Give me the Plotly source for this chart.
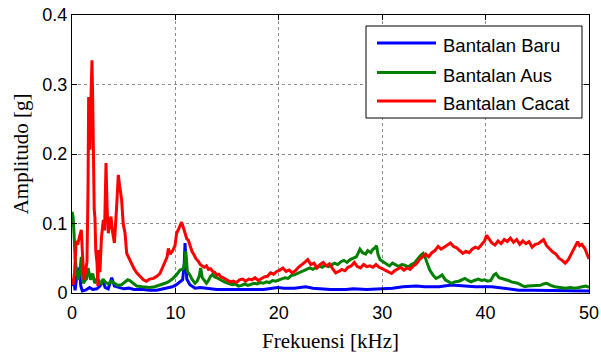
import plotly.graph_objects as go

# ---------------- data ----------------
freq_cacat = [
    0.0, 0.1, 0.25, 0.4, 0.58, 0.75, 0.9, 1.0, 1.16, 1.3,
    1.45, 1.55, 1.61, 1.68, 1.74, 1.85, 1.93, 2.0, 2.06, 2.15,
    2.22, 2.3, 2.42, 2.5, 2.58, 2.7, 2.85, 3.03, 3.15, 3.29,
    3.4, 3.51, 3.65, 3.77, 3.9, 4.1, 4.3, 4.48, 4.6, 4.8,
    4.95, 5.13, 5.29, 5.5, 5.77, 6.0, 6.26, 6.5, 6.9, 7.2,
    7.5, 7.87, 8.2, 8.5, 8.83, 9.0, 9.2, 9.32, 9.5, 9.7,
    9.96, 10.12, 10.28, 10.45, 10.6, 10.75, 10.93, 11.1, 11.25,
    11.4, 11.6, 11.8, 12.0, 12.2, 12.4, 12.6, 12.8, 13.0, 13.2,
    13.4, 13.6, 13.8, 14.0, 14.2, 14.4, 14.6, 14.8, 15.0, 15.3,
    15.6, 15.9, 16.2, 16.5, 16.8, 17.1, 17.4, 17.7, 18.0, 18.3,
    18.6, 18.9, 19.2, 19.5, 19.8, 20.1, 20.4, 20.7, 21.0, 21.3,
    21.6, 21.9, 22.2, 22.5, 22.8, 23.1, 23.4, 23.7, 24.0, 24.3,
    24.6, 24.9, 25.2, 25.5, 25.8, 26.1, 26.4, 26.7, 27.0, 27.3,
    27.6, 27.9, 28.2, 28.5, 28.8, 29.1, 29.4, 29.7, 30.0, 30.3,
    30.6, 30.9, 31.2, 31.5, 31.8, 32.1, 32.4, 32.7, 33.0, 33.3,
    33.6, 33.9, 34.2, 34.5, 34.8, 35.1, 35.4, 35.7, 36.0, 36.3,
    36.6, 36.9, 37.2, 37.5, 37.8, 38.1, 38.4, 38.7, 39.0, 39.3,
    39.6, 39.9, 40.1, 40.3, 40.6, 40.9, 41.2, 41.5, 41.8, 42.1,
    42.4, 42.7, 43.0, 43.3, 43.6, 43.9, 44.2, 44.5, 44.8, 45.1,
    45.4, 45.6, 45.9, 46.2, 46.5, 46.8, 47.1, 47.4, 47.7, 48.0,
    48.3, 48.6, 48.9, 49.1, 49.3, 49.6, 49.8, 50.0]
amp_cacat = [
    0.02, 0.012, 0.03, 0.074, 0.072, 0.082, 0.091, 0.06, 0.019, 0.03,
    0.045, 0.15, 0.282, 0.27, 0.206, 0.29, 0.335, 0.28, 0.206, 0.12,
    0.108, 0.06, 0.043, 0.01, 0.062, 0.03, 0.08, 0.105, 0.09, 0.187,
    0.12, 0.086, 0.1, 0.11, 0.09, 0.072, 0.12, 0.17, 0.155, 0.134,
    0.1, 0.086, 0.057, 0.05, 0.043, 0.035, 0.029, 0.025, 0.019, 0.017,
    0.02, 0.021, 0.024, 0.028, 0.038, 0.045, 0.052, 0.064, 0.056, 0.06,
    0.068, 0.086, 0.091, 0.097, 0.102, 0.095, 0.086, 0.078, 0.076,
    0.068, 0.06, 0.055, 0.049, 0.046, 0.041, 0.039, 0.037, 0.039, 0.034,
    0.035, 0.031, 0.03, 0.026, 0.027, 0.023, 0.022, 0.02, 0.019, 0.016,
    0.017, 0.015, 0.019, 0.02, 0.017, 0.02, 0.019, 0.022, 0.018, 0.021,
    0.023, 0.024, 0.029, 0.027, 0.031, 0.033, 0.036, 0.031, 0.033, 0.029,
    0.032, 0.037, 0.04, 0.044, 0.048, 0.041, 0.043, 0.036, 0.041, 0.044,
    0.039, 0.042, 0.035, 0.029, 0.031, 0.034, 0.032, 0.037, 0.039, 0.044,
    0.038, 0.036, 0.041, 0.038, 0.039, 0.037, 0.041, 0.037, 0.035, 0.033,
    0.031, 0.028, 0.032, 0.035, 0.037, 0.033, 0.036, 0.034, 0.039, 0.042,
    0.048, 0.052, 0.056, 0.052, 0.058, 0.061, 0.067, 0.063, 0.066, 0.069,
    0.072, 0.067, 0.065, 0.061, 0.057, 0.06, 0.058, 0.063, 0.066, 0.064,
    0.069, 0.075, 0.083, 0.078, 0.072, 0.069, 0.075, 0.071, 0.077, 0.074,
    0.079, 0.073, 0.077, 0.07, 0.075, 0.071, 0.074, 0.066, 0.07, 0.071,
    0.074, 0.077, 0.068, 0.063, 0.059, 0.056, 0.05, 0.047, 0.043, 0.048,
    0.056, 0.066, 0.074, 0.068, 0.07, 0.064, 0.056, 0.049]

freq_aus = [
    0.0, 0.1, 0.2, 0.3, 0.42, 0.6, 0.75, 0.9, 1.0, 1.1,
    1.25, 1.4, 1.55, 1.7, 1.8, 2.0, 2.2, 2.4, 2.6, 2.8,
    3.0, 3.2, 3.5, 3.8, 4.1, 4.4, 4.8, 5.1, 5.4, 5.6,
    5.9, 6.26, 6.8, 7.5, 8.0, 8.5, 9.0, 9.3, 9.7, 10.1,
    10.45, 10.77, 10.9, 11.0, 11.1, 11.16,
    11.4, 11.6, 11.9, 12.1, 12.3, 12.45, 12.6, 12.8, 13.0, 13.2,
    13.4, 13.6, 13.8, 14.0, 14.3, 14.6, 14.9, 15.2, 15.5, 15.8,
    16.1, 16.4, 16.7, 17.0, 17.3, 17.6, 17.9, 18.2, 18.5, 18.8,
    19.1, 19.4, 19.7, 20.0, 20.3, 20.6, 20.9, 21.2, 21.5, 21.8,
    22.1, 22.4, 22.7, 23.0, 23.3, 23.6, 23.9, 24.2, 24.5, 24.8,
    25.1, 25.4, 25.7, 26.0, 26.3, 26.6, 26.9, 27.2, 27.5, 27.7,
    27.85, 28.1, 28.4, 28.6, 28.9, 29.1, 29.3, 29.45, 29.6, 29.8,
    30.1, 30.4, 30.7, 31.0, 31.3, 31.6, 31.9, 32.2, 32.5, 32.8,
    33.1, 33.4, 33.7, 33.95, 34.14, 34.35, 34.6, 34.9, 35.2, 35.5,
    35.8, 36.1, 36.4, 36.7, 37.0, 37.4, 37.7, 38.0, 38.3, 38.6,
    38.9, 39.3, 39.6, 39.9, 40.2, 40.5, 40.8, 41.0, 41.3, 41.6,
    41.9, 42.2, 42.5, 42.8, 43.1, 43.5, 43.8, 44.1, 44.5, 44.9,
    45.3, 45.6, 45.9, 46.3, 46.7, 47.2, 47.7, 48.2, 48.6, 49.0,
    49.4, 49.7, 50.0]
amp_aus = [
    0.117, 0.11, 0.085, 0.05, 0.035, 0.019, 0.03, 0.052, 0.03, 0.014,
    0.018, 0.02, 0.036, 0.022, 0.019, 0.028, 0.014, 0.02, 0.018, 0.012,
    0.02, 0.016, 0.013, 0.017, 0.014, 0.011, 0.012, 0.016, 0.019, 0.018,
    0.014, 0.01, 0.009, 0.008, 0.009, 0.011, 0.014, 0.016, 0.02, 0.026,
    0.033, 0.035, 0.045, 0.06, 0.04, 0.031,
    0.026, 0.02, 0.014, 0.017, 0.024, 0.036, 0.022, 0.017, 0.014, 0.018,
    0.024, 0.027, 0.023, 0.022, 0.019, 0.017, 0.015, 0.014, 0.012, 0.013,
    0.01, 0.011, 0.013, 0.011, 0.012, 0.014, 0.013, 0.015, 0.014, 0.016,
    0.015, 0.018, 0.017, 0.019, 0.02, 0.022, 0.021, 0.025, 0.026, 0.028,
    0.031, 0.033, 0.035, 0.036, 0.034, 0.036, 0.039, 0.037, 0.04, 0.038,
    0.041, 0.043, 0.041, 0.045, 0.047, 0.044, 0.048, 0.05, 0.052, 0.058,
    0.063, 0.058, 0.056, 0.061, 0.058, 0.063, 0.065, 0.068, 0.055, 0.048,
    0.045, 0.042, 0.039, 0.043, 0.041, 0.038, 0.041, 0.04, 0.037, 0.041,
    0.043, 0.049, 0.054, 0.057, 0.052, 0.043, 0.033, 0.026, 0.021, 0.023,
    0.026, 0.019, 0.017, 0.014, 0.016, 0.017, 0.019, 0.021, 0.018, 0.016,
    0.018, 0.02, 0.018, 0.019, 0.017, 0.018, 0.026, 0.028, 0.022, 0.021,
    0.019, 0.018, 0.016, 0.015, 0.014, 0.011, 0.009, 0.01, 0.01, 0.011,
    0.011, 0.013, 0.014, 0.011, 0.009, 0.008, 0.007, 0.008, 0.007, 0.008,
    0.009, 0.01, 0.008]

freq_baru = [
    0.0, 0.15, 0.3, 0.5, 0.7, 0.85, 1.0, 1.3, 1.7, 2.0,
    2.4, 2.7, 3.0, 3.2, 3.5, 3.84, 4.1, 4.5, 5.0, 5.5,
    6.0, 6.9, 7.5, 8.2, 9.2, 9.7, 10.1, 10.5, 10.7, 10.85,
    10.93, 11.0, 11.1, 11.4, 11.9, 12.4, 13.0, 14.0, 15.3, 16.9,
    18.5, 19.9, 20.5, 21.5, 22.6, 23.3, 24.0, 25.0, 26.5, 27.2,
    28.5, 30.1, 31.0, 32.0, 33.3, 34.1, 35.5, 36.7, 37.4, 38.2,
    39.0, 40.6, 41.9, 43.2, 44.5, 46.4, 47.7, 49.3, 50.0]
amp_baru = [
    0.01, 0.02, 0.004, 0.03, 0.036, 0.01, 0.003, 0.004, 0.008, 0.005,
    0.006, 0.01, 0.018, 0.008, 0.006, 0.022, 0.01, 0.008, 0.006, 0.007,
    0.005, 0.005, 0.004, 0.004, 0.007, 0.009, 0.012, 0.016, 0.019, 0.04,
    0.072, 0.05, 0.02, 0.012, 0.007, 0.008, 0.007, 0.005, 0.005, 0.005,
    0.005, 0.008, 0.007, 0.007, 0.009, 0.007, 0.006, 0.005, 0.005, 0.006,
    0.005, 0.006, 0.007, 0.009, 0.01, 0.009, 0.009, 0.0115, 0.011, 0.01,
    0.009, 0.009, 0.007, 0.004, 0.004, 0.004, 0.003, 0.003, 0.003]

series_names = ["Bantalan Baru", "Bantalan Aus", "Bantalan Cacat"]
series_colors = ["#0000FF", "#008000", "#FF0000"]
x_ticks = [0, 10, 20, 30, 40, 50]
y_ticks = [0, 0.1, 0.2, 0.3, 0.4]
y_tick_labels = ["0", "0.1", "0.2", "0.3", "0.4"]
x_title = "Frekuensi [kHz]"
y_title = "Amplitudo [g]"

assert len(freq_cacat) == len(amp_cacat)
assert len(freq_aus) == len(amp_aus)
assert len(freq_baru) == len(amp_baru)

# ---------------- figure ----------------
W, H = 601, 356
ML, MR, MT, MB = 72, 12, 15, 63
PW, PH = W - ML - MR, H - MT - MB


def px2paper(px, py):
    return (px - ML) / PW, (H - MB - py) / PH


fig = go.Figure()
series = [(freq_baru, amp_baru), (freq_aus, amp_aus), (freq_cacat, amp_cacat)]
for (fx, fy), name, col in zip(series, series_names, series_colors):
    fig.add_trace(go.Scatter(x=fx, y=fy, mode="lines", name=name, showlegend=False,
                             line=dict(color=col, width=3)))

tick_font = dict(family="Liberation Sans, Arial, sans-serif", size=18, color="black")
title_font = dict(family="Liberation Serif, Times New Roman, serif", size=21, color="black")

axis_common = dict(showline=True, linecolor="black", linewidth=1, mirror="ticks",
                   ticks="inside", ticklen=5, tickcolor="black", tickwidth=1,
                   showgrid=True, gridcolor="rgb(140,140,140)", gridwidth=1, griddash="dot",
                   zeroline=False, tickfont=tick_font)

fig.update_xaxes(range=[0, 50], tickvals=x_ticks, ticktext=[str(v) for v in x_ticks],
                 ticklabelstandoff=3,
                 title=dict(text=x_title, font=title_font, standoff=11), **axis_common)
fig.update_yaxes(range=[0, 0.4], tickvals=y_ticks, ticktext=y_tick_labels,
                 title=dict(text=y_title, font=title_font, standoff=8), **axis_common)

# ---------------- legend (drawn as shapes + text) ----------------
bx0, by1 = px2paper(366, 26)
bx1, by0 = px2paper(582, 118)
fig.add_shape(type="rect", xref="paper", yref="paper", x0=bx0, y0=by0, x1=bx1, y1=by1,
              line=dict(color="black", width=1), fillcolor="white", layer="above")
row_py = [43, 72.5, 101]
for name, col, rpy in zip(series_names, series_colors, row_py):
    lx0, ly = px2paper(377, rpy)
    lx1, _ = px2paper(436, rpy)
    fig.add_shape(type="line", xref="paper", yref="paper", x0=lx0, x1=lx1, y0=ly, y1=ly,
                  line=dict(color=col, width=3), layer="above")
    tx, ty = px2paper(441, rpy + 2.5)
    fig.add_annotation(xref="paper", yref="paper", x=tx, y=ty, text=name, showarrow=False,
                       xanchor="left", yanchor="middle",
                       font=dict(family="Liberation Sans, Arial, sans-serif", size=18.5,
                                 color="black"))

fig.update_layout(width=W, height=H, margin=dict(l=ML, r=MR, t=MT, b=MB, autoexpand=False),
                  paper_bgcolor="white", plot_bgcolor="white", showlegend=False)

fig.write_html("out.html")
